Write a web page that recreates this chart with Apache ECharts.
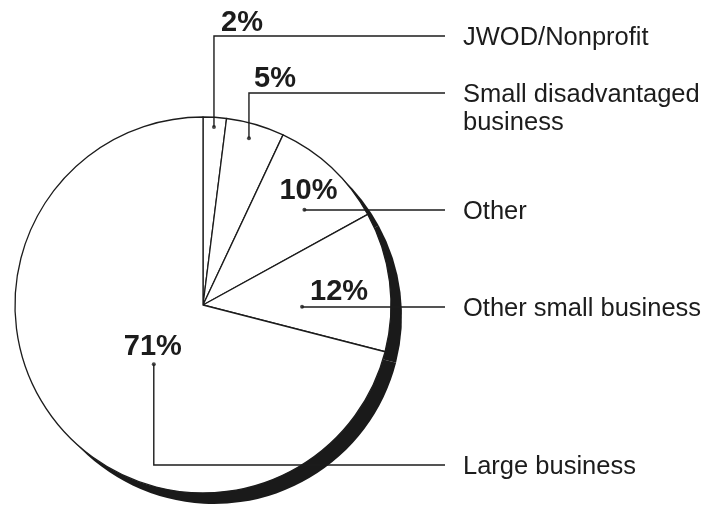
<!DOCTYPE html>
<html>
<head>
<meta charset="utf-8">
<style>
html,body{margin:0;padding:0;background:#fff;}
#chart{width:704px;height:506px;}
</style>
<script src="https://cdn.jsdelivr.net/npm/echarts@6/dist/echarts.min.js"></script>
</head>
<body>
<div id="chart"></div>
<script>
// ---- data ----
const categories = ['JWOD/Nonprofit', 'Small disadvantaged\nbusiness', 'Other', 'Other small business', 'Large business'];
const shares = [2, 5, 10, 12, 71];
const percentLabels = ['2%', '5%', '10%', '12%', '71%'];

// ---- annotation layout (not data) ----
const anchorT = [0.49, 0.456, 0.60, 0.69, 0.451];   // fraction along slice angle
const anchorR = [0.948, 0.92, 0.74, 0.527, 0.41];   // fraction of radius
const rowY = [36, 93, 210, 307, 465];               // leader row heights
const pctOffset = [[28, -13], [26, -14], [4, -19], [37, -15], [-1, -17]];
const lineEndX = 445;
const nameX = 463;
const nameDY = 2;
const nameLineHeight = 28;

const CX = 203, CY = 305, R = 188;
const FONT = '"Liberation Sans", Arial, Helvetica, sans-serif';
const INK = '#1c1c1c';

const chart = echarts.init(document.getElementById('chart'), null, {renderer: 'canvas'});

function anchorOf(seriesIndex, idx) {
  const lay = chart.getModel().getSeriesByIndex(seriesIndex).getData().getItemLayout(idx);
  const a = lay.startAngle + anchorT[idx] * (lay.endAngle - lay.startAngle);
  const r = anchorR[idx] * lay.r;
  return [lay.cx + r * Math.cos(a), lay.cy + r * Math.sin(a)];
}

// anchor values for polar dots
let cum = 0;
const dotData = shares.map((v, i) => {
  const d = [anchorR[i], cum + anchorT[i] * v];
  cum += v;
  return d;
});
const total = shares.reduce((a, b) => a + b, 0);

const option = {
  animation: false,
  backgroundColor: '#fff',
  polar: {center: [CX, CY], radius: R},
  angleAxis: {type: 'value', min: 0, max: total, startAngle: 90, clockwise: true,
    axisLine: {show: false}, axisTick: {show: false}, axisLabel: {show: false}, splitLine: {show: false}},
  radiusAxis: {type: 'value', min: 0, max: 1,
    axisLine: {show: false}, axisTick: {show: false}, axisLabel: {show: false}, splitLine: {show: false}},
  series: [
    { // shadow disc
      type: 'pie', silent: true, center: [CX + 11, CY + 11], radius: R,
      startAngle: 90, clockwise: true, avoidLabelOverlap: false,
      label: {show: false}, labelLine: {show: false},
      itemStyle: {color: '#1a1a1a', borderColor: '#1a1a1a', borderWidth: 0},
      data: shares.map((v, i) => ({name: categories[i], value: v})),
      z: 1
    },
    { // main pie with percentage labels
      type: 'pie', silent: true, center: [CX, CY], radius: R,
      startAngle: 90, clockwise: true, avoidLabelOverlap: false,
      itemStyle: {color: '#fff', borderColor: INK, borderWidth: 1.3},
      label: {show: true, position: 'inside', formatter: p => percentLabels[p.dataIndex],
        fontFamily: FONT, fontWeight: 'bold', fontSize: 29, color: INK},
      labelLine: {show: false},
      labelLayout: function (params) {
        const i = params.dataIndex;
        const an = anchorOf(1, i);
        const refY = Math.min(an[1], rowY[i]);
        return {x: an[0] + pctOffset[i][0], y: refY + pctOffset[i][1], align: 'center', verticalAlign: 'middle'};
      },
      data: shares.map((v, i) => ({name: categories[i], value: v})),
      z: 2
    },
    { // overlay for names + leader lines
      type: 'pie', silent: true, center: [CX, CY], radius: R,
      startAngle: 90, clockwise: true, avoidLabelOverlap: false,
      itemStyle: {color: 'rgba(0,0,0,0)', borderWidth: 0},
      label: {show: true, position: 'outside', formatter: '{b}',
        fontFamily: FONT, fontSize: 25.5, color: INK, lineHeight: nameLineHeight},
      labelLine: {show: true, length: 5, length2: 5, lineStyle: {color: INK, width: 1.4}},
      labelLayout: function (params) {
        const i = params.dataIndex;
        const an = anchorOf(2, i);
        const lines = categories[i].split('\n').length;
        return {
          x: nameX, y: rowY[i] + nameDY + (lines - 1) * nameLineHeight / 2,
          align: 'left', verticalAlign: 'middle',
          labelLinePoints: [[an[0], an[1]], [an[0], rowY[i]], [lineEndX, rowY[i]]]
        };
      },
      data: shares.map((v, i) => ({name: categories[i], value: v})),
      z: 3
    },
    { // anchor dots
      type: 'scatter', coordinateSystem: 'polar', silent: true,
      symbol: 'circle', symbolSize: 4, itemStyle: {color: INK},
      data: dotData, z: 4
    }
  ]
};
chart.setOption(option);
</script>
</body>
</html>
